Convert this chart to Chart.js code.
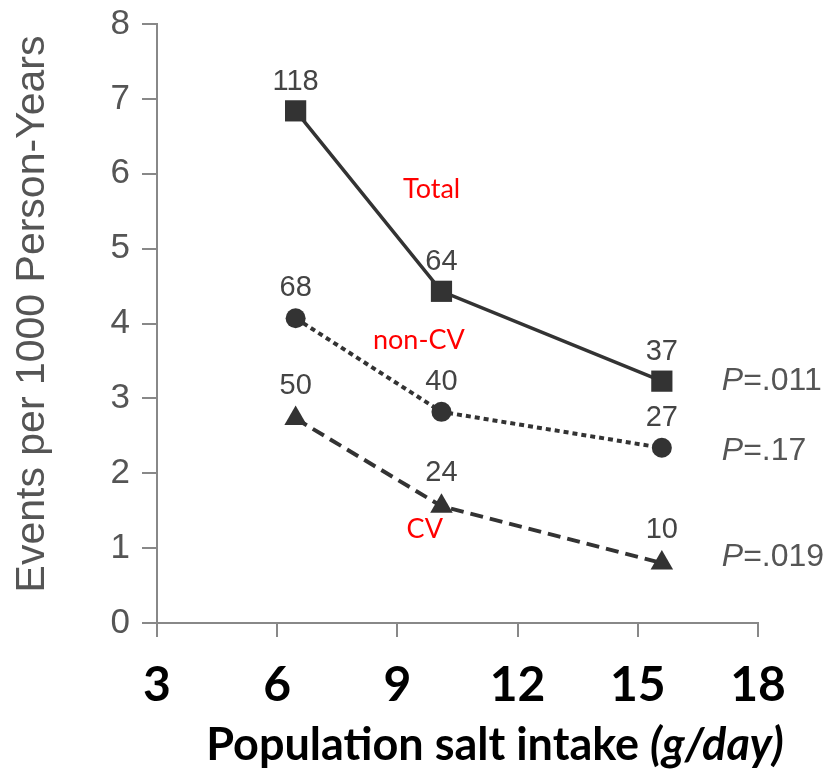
<!DOCTYPE html>
<html>
<head>
<meta charset="utf-8">
<script src="https://cdn.jsdelivr.net/npm/chart.js@4.4.1/dist/chart.umd.min.js"></script>
<style>
  body { margin: 0; background: #fff; }
  #wrap { width: 830px; height: 772px; }
</style>
</head>
<body>
<div id="wrap"><canvas id="saltchart" width="830" height="772"></canvas></div>
<script>
// salt intake (g/day) for the three population groups
const saltIntake = [6.46, 10.1, 15.6];

// events per 1000 person-years
const totalRate = [6.84, 4.43, 3.23];
const nonCvRate = [4.07, 2.82, 2.34];
const cvRate = [2.73, 1.56, 0.8];

// number of events shown above each point
const totalEvents = [118, 64, 37];
const nonCvEvents = [68, 40, 27];
const cvEvents = [50, 24, 10];

const seriesNames = ["Total", "non-CV", "CV"];
const pValues = [".011", ".17", ".019"];

const xTicks = [3, 6, 9, 12, 15, 18];
const yTicks = [0, 1, 2, 3, 4, 5, 6, 7, 8];

// where the red series names sit (data units)
const nameSpots = [
  { x: 9.14, y: 5.79 },
  { x: 8.39, y: 3.78 },
  { x: 9.23, y: 1.25 },
];

const toPoints = (ys) => saltIntake.map((x, i) => ({ x: x, y: ys[i] }));
const eventCounts = [totalEvents, nonCvEvents, cvEvents];
const countOffset = [29, 30, 33];
const pOffset = [0, 3, -6];

const ink = "#333";

const textPlugin = {
  id: "texts",
  afterDatasetsDraw(chart) {
    const ctx = chart.ctx;
    const xs = chart.scales.x;
    const ys = chart.scales.y;
    ctx.save();

    // event counts above points
    ctx.font = '29px "Liberation Sans", Arial, sans-serif';
    ctx.fillStyle = "#444";
    ctx.textAlign = "center";
    ctx.textBaseline = "middle";
    eventCounts.forEach((counts, i) => {
      chart.getDatasetMeta(i).data.forEach((pt, j) => {
        ctx.fillText(String(counts[j]), pt.x, pt.y - countOffset[i]);
      });
    });

    // P values on the right
    ctx.fillStyle = "#555";
    ctx.textAlign = "left";
    eventCounts.forEach((c, i) => {
      const meta = chart.getDatasetMeta(i).data;
      const last = meta[meta.length - 1];
      let x = last.x + 60;
      const y = last.y + pOffset[i];
      ctx.font = 'italic 32px "Liberation Sans", Arial, sans-serif';
      ctx.fillText("P", x, y);
      x += ctx.measureText("P").width;
      ctx.font = '32px "Liberation Sans", Arial, sans-serif';
      ctx.fillText("=" + pValues[i], x, y);
    });

    // red series names
    ctx.font = '27px Lato, "Open Sans", sans-serif';
    ctx.fillStyle = "#ff0000";
    seriesNames.forEach((name, i) => {
      ctx.fillText(name, xs.getPixelForValue(nameSpots[i].x), ys.getPixelForValue(nameSpots[i].y));
    });

    // y axis title
    ctx.save();
    ctx.translate(44, 314);
    ctx.rotate(-Math.PI / 2);
    ctx.font = '41px "Liberation Sans", Arial, sans-serif';
    ctx.fillStyle = "#555";
    ctx.textAlign = "center";
    ctx.textBaseline = "alphabetic";
    ctx.fillText("Events per 1000 Person-Years", 0, 0);
    ctx.restore();

    // x axis title, with italic units
    const partA = "Population salt intake ";
    const partB = "(g/day)";
    ctx.fillStyle = "#000";
    ctx.textBaseline = "alphabetic";
    ctx.font = 'bold 45px Lato, "Open Sans", sans-serif';
    const wA = ctx.measureText(partA).width;
    ctx.font = 'italic bold 45px Lato, "Open Sans", sans-serif';
    const wB = ctx.measureText(partB).width;
    const tx = 495 - (wA + wB) / 2;
    ctx.font = 'bold 45px Lato, "Open Sans", sans-serif';
    ctx.fillText(partA, tx, 760);
    ctx.font = 'italic bold 45px Lato, "Open Sans", sans-serif';
    ctx.fillText(partB, tx + wA, 760);

    ctx.restore();
  },
};

const saltChart = new Chart(document.getElementById("saltchart"), {
  type: "line",
  data: {
    datasets: [
      {
        label: seriesNames[0],
        data: toPoints(totalRate),
        borderColor: ink,
        backgroundColor: ink,
        borderWidth: 3.5,
        pointStyle: "rect",
        pointRadius: 15,
        pointBorderWidth: 0,
      },
      {
        label: seriesNames[1],
        data: toPoints(nonCvRate),
        borderColor: ink,
        backgroundColor: ink,
        borderWidth: 4,
        borderDash: [5, 4],
        pointStyle: "circle",
        pointRadius: 10,
        pointBorderWidth: 0,
      },
      {
        label: seriesNames[2],
        data: toPoints(cvRate),
        borderColor: ink,
        backgroundColor: ink,
        borderWidth: 4,
        borderDash: [13, 7],
        pointStyle: "triangle",
        pointRadius: 13,
        pointBorderWidth: 0,
      },
    ],
  },
  options: {
    responsive: false,
    animation: false,
    devicePixelRatio: 1,
    layout: { padding: { top: 24, right: 72, left: 0, bottom: 0 } },
    plugins: {
      legend: { display: false },
      tooltip: { enabled: false },
    },
    scales: {
      x: {
        type: "linear",
        min: 3,
        max: 18,
        afterFit: (s) => {
          s.height = 149;
          s.paddingLeft = 0;
          s.paddingRight = 0;
        },
        afterBuildTicks: (s) => { s.ticks = xTicks.map((v) => ({ value: v })); },
        grid: { drawOnChartArea: false, color: "#888", lineWidth: 2, tickLength: 14 },
        border: { color: "#888", width: 2 },
        ticks: {
          padding: 20,
          color: "#000",
          font: { family: 'Lato, "Open Sans", sans-serif', size: 48, weight: "bold" },
        },
      },
      y: {
        min: 0,
        max: 8,
        afterFit: (s) => {
          s.width = 157;
          s.paddingTop = 0;
          s.paddingBottom = 0;
        },
        afterBuildTicks: (s) => { s.ticks = yTicks.map((v) => ({ value: v })); },
        grid: { drawOnChartArea: false, color: "#888", lineWidth: 2, tickLength: 15 },
        border: { color: "#888", width: 2 },
        ticks: {
          padding: 12,
          color: "#555",
          font: { family: '"Liberation Sans", Arial, sans-serif', size: 35 },
        },
      },
    },
  },
  plugins: [textPlugin],
});
</script>
</body>
</html>
